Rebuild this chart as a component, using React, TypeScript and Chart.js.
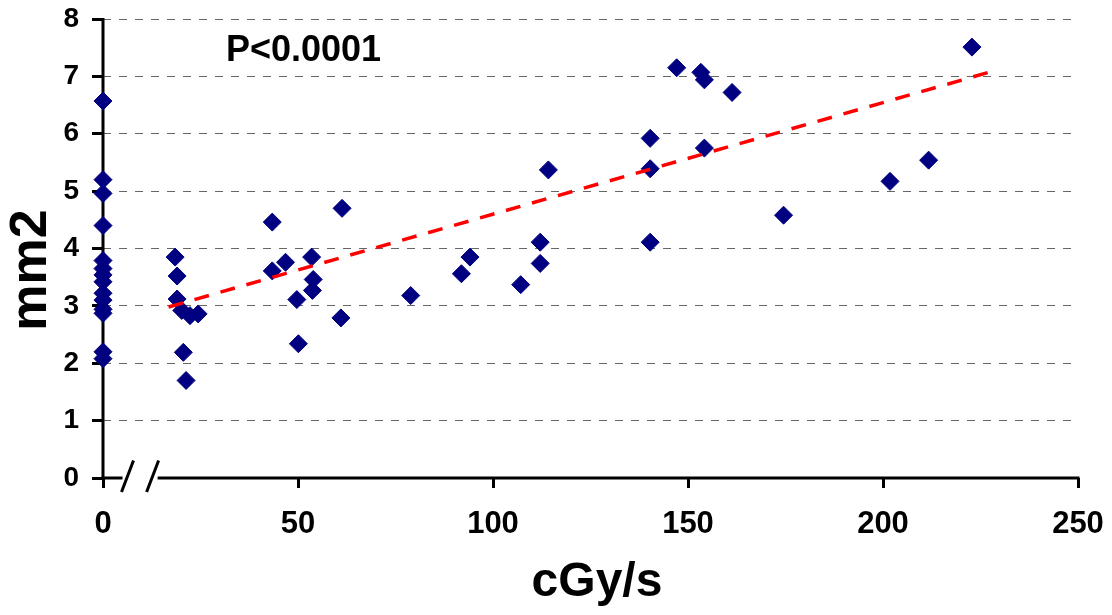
import React, { useEffect, useRef } from "react";
import { Chart, registerables } from "chart.js";

Chart.register(...registerables);

// Points at dose rate 0 (drawn on the y axis)
const zeroDoseAreas = [6.57, 5.2, 4.96, 4.4, 3.79, 3.65, 3.54, 3.42, 3.22, 3.1, 2.94, 2.87, 2.2, 2.08];

// Points at non-zero dose rates
const doseRates = [
  18.5, 19, 19, 20.2, 22.3, 24.4, 20.6, 21.3,
  43.4, 43.4, 46.8, 53.5, 53.9, 53.7, 49.7, 50.1, 61.3, 61.0,
  78.9, 91.9, 94.1, 107.1, 112.1, 112.1, 114.2,
  140.3, 140.3, 140.3,
  147.1, 153.3, 154.2, 161.3, 154.2, 174.5, 201.8, 211.7, 222.8,
];
const areas = [
  3.85, 3.52, 3.12, 2.92, 2.83, 2.86, 2.19, 1.7,
  4.46, 3.61, 3.76, 3.85, 3.46, 3.27, 3.11, 2.34, 4.7, 2.79,
  3.18, 3.56, 3.85, 3.37, 4.11, 3.74, 5.37,
  5.92, 5.39, 4.11,
  7.15, 7.07, 6.94, 6.72, 5.75, 4.58, 5.17, 5.54, 7.51,
];

// Regression line end points
const trendX = [16.8, 227.6];
const trendY = [2.98, 7.08];

const xTickValues = [0, 50, 100, 150, 200, 250];
const yTickValues = [0, 1, 2, 3, 4, 5, 6, 7, 8];

const xTitle = "cGy/s";
const yTitle = "mm2";
const pLabel = "P<0.0001";

// axis break on the x axis (data units)
const breakStart = 5;
const breakEnd = 14;

const FONT = "'Liberation Sans', Arial, Helvetica, sans-serif";

const axesPlugin = {
  id: "axesBreak",
  beforeDatasetsDraw(chart: any) {
    const { ctx, chartArea, scales } = chart;
    const x = scales.x;
    const y = scales.y;
    const x0 = x.getPixelForValue(0);
    const y0 = y.getPixelForValue(0);
    const b1 = x.getPixelForValue(breakStart);
    const b2 = x.getPixelForValue(breakEnd);
    ctx.save();
    ctx.strokeStyle = "#000";
    ctx.lineWidth = 3;
    ctx.lineCap = "butt";
    ctx.setLineDash([]);
    ctx.beginPath();
    ctx.moveTo(x0, chartArea.top - 1);
    ctx.lineTo(x0, y0 + 1.5);
    ctx.stroke();
    ctx.beginPath();
    ctx.moveTo(x0 - 1.5, y0);
    ctx.lineTo(b1, y0);
    ctx.moveTo(b2, y0);
    ctx.lineTo(chartArea.right + 1.5, y0);
    ctx.stroke();
    ctx.beginPath();
    for (const bx of [b1 + 5, b2 - 5]) {
      ctx.moveTo(bx - 6, y0 + 14);
      ctx.lineTo(bx + 6, y0 - 17.5);
    }
    ctx.stroke();
    ctx.restore();
  },
  afterDraw(chart: any) {
    const { ctx } = chart;
    ctx.save();
    ctx.fillStyle = "#000";
    ctx.textAlign = "center";
    ctx.textBaseline = "middle";
    // y title
    ctx.save();
    ctx.translate(32, 270);
    ctx.rotate(-Math.PI / 2);
    ctx.font = `bold 52px ${FONT}`;
    ctx.fillText(yTitle, 0, 0);
    ctx.restore();
    // x title
    ctx.font = `bold 48px ${FONT}`;
    ctx.fillText(xTitle, 597, 583);
    // P value
    ctx.textAlign = "left";
    ctx.font = `bold 36px ${FONT}`;
    ctx.fillText(pLabel, 226, 51);
    ctx.restore();
  },
};

export default function App() {
  const canvasRef = useRef<HTMLCanvasElement | null>(null);

  useEffect(() => {
    if (!canvasRef.current) return;
    const scatterData = [
      ...zeroDoseAreas.map((v) => ({ x: 0, y: v })),
      ...doseRates.map((d, i) => ({ x: d, y: areas[i] })),
    ];
    const trendData = trendX.map((d, i) => ({ x: d, y: trendY[i] }));

    const chart = new Chart(canvasRef.current, {
      type: "scatter",
      data: {
        datasets: [
          {
            label: "trend",
            data: trendData,
            showLine: true,
            borderColor: "#ff0000",
            borderWidth: 3.5,
            borderDash: [15, 12],
            pointRadius: 0,
            fill: false,
            clip: false as any,
          },
          {
            label: "data",
            data: scatterData,
            pointStyle: "rectRot",
            pointRadius: 9,
            pointHoverRadius: 9,
            backgroundColor: "#000080",
            borderColor: "#000080",
            borderWidth: 1,
            clip: false as any,
          },
        ],
      },
      options: {
        animation: false,
        responsive: true,
        maintainAspectRatio: false,
        events: [],
        layout: { padding: { top: 19, right: 34, left: 0, bottom: 0 } },
        plugins: {
          legend: { display: false },
          tooltip: { enabled: false },
          title: { display: false },
        },
        scales: {
          x: {
            type: "linear",
            min: 0,
            max: 250,
            afterFit: (s: any) => {
              s.height = 137;
              s.paddingLeft = 0;
              s.paddingRight = 0;
            },
            afterBuildTicks: (s: any) => {
              s.ticks = xTickValues.map((v) => ({ value: v }));
            },
            border: { display: false },
            grid: {
              drawOnChartArea: false,
              drawTicks: true,
              tickLength: 10,
              tickColor: "#000",
              tickWidth: 3,
              color: "#000",
            },
            ticks: {
              color: "#000",
              font: { family: FONT, size: 31, weight: "bold" },
              padding: 18,
              maxRotation: 0,
              autoSkip: false,
            },
          },
          y: {
            type: "linear",
            min: 0,
            max: 8,
            afterFit: (s: any) => {
              s.width = 103;
              s.paddingTop = 0;
              s.paddingBottom = 0;
            },
            afterBuildTicks: (s: any) => {
              s.ticks = yTickValues.map((v) => ({ value: v }));
            },
            border: { display: false, dash: [8, 8] },
            grid: {
              drawOnChartArea: true,
              drawTicks: true,
              tickLength: 11,
              tickColor: "#000",
              tickWidth: 3,
              lineWidth: 1,
              color: (c: any) => (c.tick && c.tick.value === 0 ? "rgba(0,0,0,0)" : "#666"),
            },
            ticks: {
              color: "#000",
              font: { family: FONT, size: 28, weight: "bold" },
              padding: 13,
              autoSkip: false,
            },
          },
        },
      },
      plugins: [axesPlugin],
    });
    return () => chart.destroy();
  }, []);

  return (
    <div style={{ position: "fixed", left: 0, top: 0, width: 1112, height: 615, background: "#fff" }}>
      <canvas ref={canvasRef} />
    </div>
  );
}
